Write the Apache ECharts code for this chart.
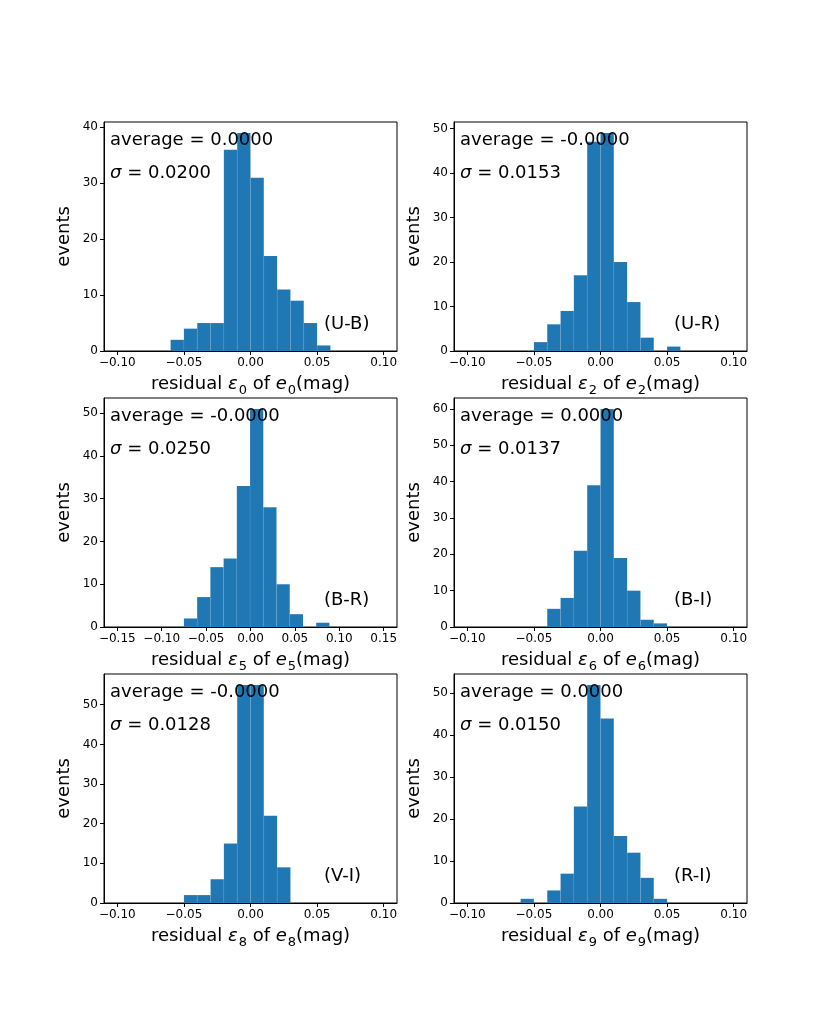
<!DOCTYPE html>
<html>
<head>
<meta charset="utf-8">
<title>Residual histograms</title>
<script src="https://cdn.jsdelivr.net/npm/echarts@6/dist/echarts.min.js"></script>
<style>
  html, body { margin: 0; padding: 0; background: #fff; }
  #chart { width: 830px; height: 1015px; }
</style>
</head>
<body>
<div id="chart"></div>
<script>
// Six residual histograms (2 columns x 3 rows), one grid per colour index.

const panelNames = ['(U-B)', '(U-R)', '(B-R)', '(B-I)', '(V-I)', '(R-I)'];
const subIdx = ['0', '2', '5', '6', '8', '9'];
const averages = ['0.0000', '-0.0000', '-0.0000', '0.0000', '-0.0000', '0.0000'];
const sigmas = ['0.0200', '0.0153', '0.0250', '0.0137', '0.0128', '0.0150'];

// bin edges + counts per panel
const edgesUB = [-0.06, -0.05, -0.04, -0.03, -0.02, -0.01, 0.00, 0.01, 0.02, 0.03, 0.04, 0.05, 0.06];
const countsUB = [2, 4, 5, 5, 36, 39, 31, 17, 11, 9, 5, 1];

const edgesUR = [-0.05, -0.04, -0.03, -0.02, -0.01, 0.00, 0.01, 0.02, 0.03, 0.04, 0.05, 0.06];
const countsUR = [2, 6, 9, 17, 47, 49, 20, 11, 3, 0, 1];

const edgesBR = [-0.0750, -0.0601, -0.0452, -0.0303, -0.0154, -0.0005, 0.0144, 0.0293, 0.0442, 0.0591, 0.0740, 0.0889];
const countsBR = [2, 7, 14, 16, 33, 51, 28, 10, 3, 0, 1];

const edgesBI = [-0.04, -0.03, -0.02, -0.01, 0.00, 0.01, 0.02, 0.03, 0.04, 0.05];
const countsBI = [5, 8, 21, 39, 60, 19, 10, 2, 1];

const edgesVI = [-0.05, -0.04, -0.03, -0.02, -0.01, 0.00, 0.01, 0.02, 0.03];
const countsVI = [2, 2, 6, 15, 55, 55, 22, 9];

const edgesRI = [-0.06, -0.05, -0.04, -0.03, -0.02, -0.01, 0.00, 0.01, 0.02, 0.03, 0.04, 0.05];
const countsRI = [1, 0, 3, 7, 23, 52, 44, 16, 12, 6, 1];

const xTicksNarrow = [-0.10, -0.05, 0.00, 0.05, 0.10];
const xTicksWide = [-0.15, -0.10, -0.05, 0.00, 0.05, 0.10, 0.15];
const yTicks40 = [0, 10, 20, 30, 40];
const yTicks50 = [0, 10, 20, 30, 40, 50];
const yTicks60 = [0, 10, 20, 30, 40, 50, 60];

const xLimNarrow = 0.11;
const xLimWide = 0.165;

const panels = [
  { edges: edgesUB, counts: countsUB, xTicks: xTicksNarrow, xLim: xLimNarrow, yTicks: yTicks40 },
  { edges: edgesUR, counts: countsUR, xTicks: xTicksNarrow, xLim: xLimNarrow, yTicks: yTicks50 },
  { edges: edgesBR, counts: countsBR, xTicks: xTicksWide, xLim: xLimWide, yTicks: yTicks50 },
  { edges: edgesBI, counts: countsBI, xTicks: xTicksNarrow, xLim: xLimNarrow, yTicks: yTicks60 },
  { edges: edgesVI, counts: countsVI, xTicks: xTicksNarrow, xLim: xLimNarrow, yTicks: yTicks50 },
  { edges: edgesRI, counts: countsRI, xTicks: xTicksNarrow, xLim: xLimNarrow, yTicks: yTicks50 },
];

// layout (px)
const COL_LEFT = [104, 454];
const ROW_TOP = [122, 398, 674];
const GRID_W = 293;
const GRID_H = 229;
const FONT = 'DejaVu Sans';
const BAR = '#1f77b4';

const chart = echarts.init(document.getElementById('chart'), null, { renderer: 'canvas' });

const fmtTick = (v) => (v < -1e-9 ? '\u2212' : '') + Math.abs(v).toFixed(2);

// mathtext-ish styles for the x label: italic symbols, lowered small subscripts
const nameRich = {
  t: { fontFamily: FONT, fontSize: 18, color: '#000', verticalAlign: 'middle' },
  i: { fontFamily: FONT, fontSize: 18, fontStyle: 'italic', color: '#000', verticalAlign: 'middle' },
  s: { fontFamily: FONT, fontSize: 13, color: '#000', verticalAlign: 'bottom', padding: [12, 0, 0, 1] },
};

const grids = [], xAxes = [], yAxes = [], series = [], graphics = [];

panels.forEach((p, i) => {
  const left = COL_LEFT[i % 2];
  const top = ROW_TOP[Math.floor(i / 2)];
  grids.push({
    left, top, width: GRID_W, height: GRID_H,
    show: true, borderColor: '#000', borderWidth: 1, backgroundColor: 'transparent',
  });

  xAxes.push({
    type: 'value', gridIndex: i, min: -p.xLim, max: p.xLim,
    name: '{t|residual }{i|ε}{s|' + subIdx[i] + '}{t| of }{i|e}{s|' + subIdx[i] + '}{t|(mag)}',
    nameLocation: 'middle', nameGap: 21,
    nameTextStyle: { fontFamily: FONT, fontSize: 18, color: '#000', rich: nameRich },
    axisLine: { show: true, onZero: false, lineStyle: { color: '#000', width: 1 } },
    axisTick: { show: true, length: 4, customValues: p.xTicks, lineStyle: { color: '#000' } },
    axisLabel: {
      customValues: p.xTicks, formatter: fmtTick, margin: 6,
      fontFamily: FONT, fontSize: 12, color: '#000',
    },
    splitLine: { show: false },
  });

  const yMax = Math.max(...p.counts) * 1.05;
  yAxes.push({
    type: 'value', gridIndex: i, min: 0, max: yMax,
    name: 'events', nameLocation: 'middle', nameGap: 31,
    nameTextStyle: { fontFamily: FONT, fontSize: 18, color: '#000' },
    axisLine: { show: true, onZero: false, lineStyle: { color: '#000', width: 1 } },
    axisTick: { show: true, length: 4, customValues: p.yTicks, lineStyle: { color: '#000' } },
    axisLabel: {
      customValues: p.yTicks, margin: 6,
      fontFamily: FONT, fontSize: 12, color: '#000',
    },
    splitLine: { show: false },
  });

  const data = p.counts.map((c, k) => [p.edges[k], p.edges[k + 1], c]);
  series.push({
    type: 'custom', xAxisIndex: i, yAxisIndex: i, data,
    clip: true,
    renderItem: (params, api) => {
      const a = api.coord([api.value(0), api.value(2)]);
      const b = api.coord([api.value(1), 0]);
      return {
        type: 'rect',
        shape: { x: a[0], y: a[1], width: b[0] - a[0], height: b[1] - a[1] },
        style: { fill: BAR, stroke: 'rgba(255,255,255,0.1)', lineWidth: 0.6 },
      };
    },
  });

  const txt = { fontFamily: FONT, fontSize: 18, fill: '#000', verticalAlign: 'bottom' };
  graphics.push(
    { type: 'text', z: 10, x: left + 6, y: top + 27,
      style: Object.assign({ text: 'average = ' + averages[i] }, txt) },
    { type: 'text', z: 10, x: left + 6, y: top + 60,
      style: Object.assign({
        text: '{i|σ} = ' + sigmas[i],
        rich: { i: { fontFamily: FONT, fontSize: 18, fontStyle: 'italic', fill: '#000' } },
      }, txt) },
    { type: 'text', z: 10, x: left + Math.round(0.75 * GRID_W), y: top + 211,
      style: Object.assign({ text: panelNames[i] }, txt) }
  );
});

chart.setOption({
  animation: false,
  backgroundColor: '#fff',
  grid: grids,
  xAxis: xAxes,
  yAxis: yAxes,
  series,
  graphic: graphics,
});

window.addEventListener('resize', () => chart.resize());
</script>
</body>
</html>
